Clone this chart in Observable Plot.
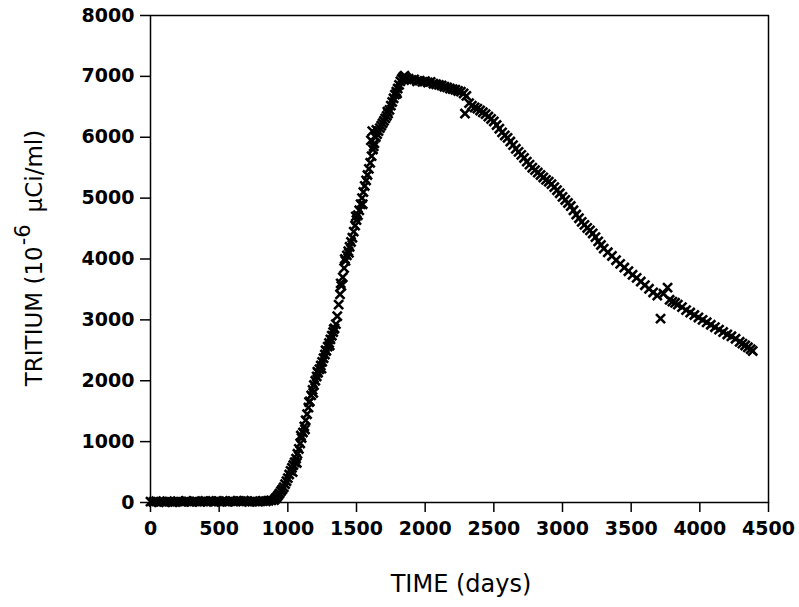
<!DOCTYPE html>
<html>
<head>
<meta charset="utf-8">
<script src="https://cdn.jsdelivr.net/npm/d3@7"></script>
<script src="https://cdn.jsdelivr.net/npm/@observablehq/plot@0.6"></script>
<style>
  html, body { margin: 0; padding: 0; background: #fff; }
  #chart svg { display: block; }
</style>
</head>
<body>
<div id="chart"></div>
<script>
// Observed tritium concentration (10^-6 µCi/ml) vs time (days)
const baselineDays = [0,20,40,60,80,100,120,140,160,180,200,220,240,260,280,300,320,340,360,380,400,420,440,460,480,500,520,540,560,580,600,620,640,660,680,700,720,740,760,780,800,820,840,860,880];
const baselineValues = [15,10,20,5,15,10,20,15,5,10,20,15,10,25,15,10,20,15,10,20,25,15,20,10,25,20,15,20,10,25,20,15,25,20,30,20,10,15,20,15,20,25,20,30,35];

const riseDays = [900,910,920,930,940,950,960,970,980,990,1000,1010,1020,1030,1040,1050,1060,1070,1080,1090,1100,1110,1120,1130,1140,1150,1160,1170,1180,1190,1200,1210,1220,1230,1240,1250,1260,1270,1280,1290,1300,1310,1320,1330,1340,1350,1360,1370,1380,1390,1400,1410,1420,1430,1440,1450,1460,1470,1480,1490,1500,1510,1520,1530,1540,1550,1560,1570,1580,1590,1600,1610,1620,1630,1640,1650,1660,1670,1680,1690,1700,1710,1720,1730,1740,1750,1760,1770,1780,1790,1800,1810,1820,1830,1840,1850];
const riseValues = [40,65,90,120,150,185,215,250,300,350,400,460,520,570,615,660,720,800,880,970,1060,1150,1250,1350,1450,1560,1660,1760,1850,1930,2000,2070,2130,2190,2250,2310,2370,2430,2490,2560,2620,2680,2740,2800,2860,2930,3060,3250,3420,3560,3700,3850,3970,4060,4130,4200,4280,4350,4450,4550,4640,4720,4800,4900,5000,5100,5200,5290,5380,5480,5580,5690,5800,5900,6000,6050,6100,6150,6190,6230,6270,6310,6350,6390,6450,6520,6580,6640,6700,6750,6800,6860,6920,6960,6990,7010];

const scatterDays = [1035,1065,1095,1125,1155,1185,1215,1245,1275,1305,1335,1385,1415,1445,1495,1545,1605,1615,1625,1645,1725,1795,1845,2290,3714,3735,3765];
const scatterValues = [500,650,1100,1200,1650,1800,2150,2200,2500,2580,2850,3600,4000,4100,4700,4900,5950,6100,5850,6120,6420,6720,6950,6390,3020,3430,3530];

const declineDays = [1860,1880,1900,1920,1940,1960,1980,2000,2020,2040,2060,2080,2100,2120,2140,2160,2180,2200,2220,2240,2260,2280,2300,2320,2340,2360,2380,2400,2420,2440,2460,2480,2500,2520,2540,2560,2580,2600,2620,2640,2660,2680,2700,2720,2740,2760,2780,2800,2820,2840,2860,2880,2900,2920,2940,2960,2980,3000,3020,3040,3060,3080,3100,3120,3140,3160,3180,3200,3220,3240,3260,3280,3300];
const declineValues = [6980,6960,6940,6950,6920,6930,6910,6920,6900,6910,6880,6870,6860,6850,6830,6820,6800,6790,6780,6760,6750,6720,6680,6560,6520,6490,6470,6440,6410,6380,6340,6300,6260,6200,6140,6080,6030,5990,5930,5870,5810,5760,5710,5660,5600,5550,5500,5460,5420,5380,5340,5300,5270,5230,5180,5130,5080,5020,4970,4920,4870,4800,4730,4670,4610,4560,4510,4470,4420,4360,4290,4230,4170];

const lateDays = [3330,3360,3390,3420,3450,3480,3510,3540,3570,3600,3630,3660,3690,3780,3800,3820,3840,3870,3900,3930,3960,3990,4020,4050,4080,4110,4140,4170,4200,4230,4260,4290,4310,4330,4350,4370,4385];
const lateValues = [4110,4050,3980,3920,3860,3800,3740,3690,3630,3570,3510,3450,3400,3330,3300,3280,3250,3210,3160,3120,3080,3040,3000,2960,2920,2880,2840,2800,2760,2730,2690,2640,2610,2580,2550,2520,2490];

const xTicks = [0,500,1000,1500,2000,2500,3000,3500,4000,4500];
const yTicks = [0,1000,2000,3000,4000,5000,6000,7000,8000];
const xTitle = "TIME (days)";

const allDays = [...baselineDays, ...riseDays, ...scatterDays, ...declineDays, ...lateDays];
const allValues = [...baselineValues, ...riseValues, ...scatterValues, ...declineValues, ...lateValues];
const data = allDays.map((d, i) => ({day: d, tritium: allValues[i]}));

const fmt = d3.format("d");

const chart = Plot.plot({
  width: 799,
  height: 607,
  marginLeft: 150,
  marginRight: 31,
  marginTop: 15,
  marginBottom: 105,
  style: {fontFamily: "DejaVu Sans", background: "#fff", color: "#000"},
  x: {domain: [0, 4500]},
  y: {domain: [0, 8000]},
  marks: [
    Plot.frame({stroke: "#000", strokeWidth: 1.5}),
    Plot.axisX({ticks: xTicks, tickSize: 10, tickPadding: 9, tickFormat: fmt, fontSize: 19, fontWeight: "bold", label: null, strokeWidth: 1.5}),
    Plot.axisY({ticks: yTicks, tickSize: 10, tickPadding: 6, tickFormat: fmt, fontSize: 19, fontWeight: "bold", label: null, strokeWidth: 1.5}),
    Plot.dot(data, {x: "day", y: "tritium", symbol: "times", r: 4.2, stroke: "#000", strokeWidth: 2.6})
  ]
});

document.getElementById("chart").appendChild(chart);

const svg = d3.select(chart);
svg.append("text")
  .attr("x", 461).attr("y", 592)
  .attr("text-anchor", "middle")
  .attr("font-family", "DejaVu Sans")
  .attr("font-size", 24)
  .attr("fill", "#000")
  .text(xTitle);

const yt = svg.append("text")
  .attr("transform", "translate(42,258) rotate(-90)")
  .attr("text-anchor", "middle")
  .attr("font-family", "DejaVu Sans")
  .attr("font-size", 23)
  .attr("fill", "#000");
yt.append("tspan").text("TRITIUM (10");
yt.append("tspan").attr("dy", -12).attr("dx", 1).attr("font-size", 21).text("-6");
yt.append("tspan").attr("dy", 12).attr("dx", 12).text("\u00B5Ci/ml)");
</script>
</body>
</html>
